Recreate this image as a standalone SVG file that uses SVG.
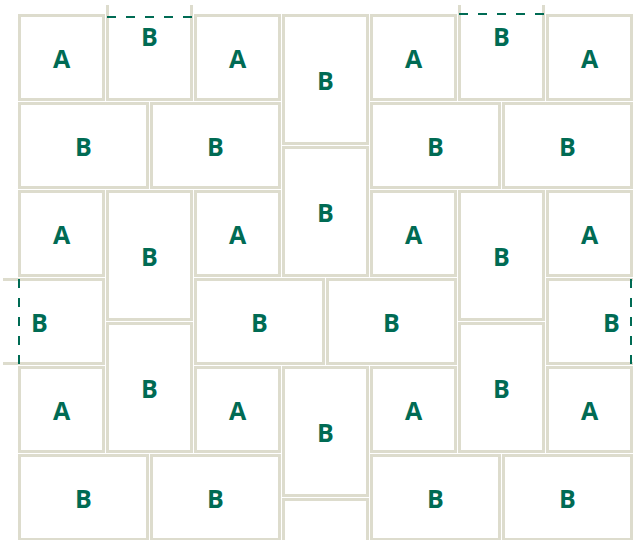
<svg xmlns="http://www.w3.org/2000/svg" width="633" height="540" viewBox="0 0 633 540">
<defs>
<clipPath id="clip"><rect x="3" y="5" width="630" height="535"/></clipPath>
<style>
.t{fill:#ffffff;stroke:#dddccd;stroke-width:3}
.l{font-family:"Open Sans","Noto Sans",sans-serif;font-weight:700;font-size:25px;fill:#006b54;text-anchor:middle}
.d{stroke:#006b54;stroke-width:2;stroke-dasharray:9 10;fill:none}
</style>
</defs>
<rect width="633" height="540" fill="#ffffff"/>
<g id="tiles" clip-path="url(#clip)">
<g id="a1"><rect class="t" x="19.5" y="15.5" width="84" height="84"/><text class="l" x="61.5" y="68">A</text></g>
<g id="b1"><rect class="t" x="107.5" y="-28.5" width="84" height="128"/><text class="l" x="149.5" y="46">B</text></g>
<g id="a2"><rect class="t" x="195.5" y="15.5" width="84" height="84"/><text class="l" x="237.5" y="68">A</text></g>
<g id="b2"><rect class="t" x="283.5" y="15.5" width="84" height="128"/><text class="l" x="325.5" y="90">B</text></g>
<g id="a3"><rect class="t" x="371.5" y="15.5" width="84" height="84"/><text class="l" x="413.5" y="68">A</text></g>
<g id="b3"><rect class="t" x="459.5" y="-28.5" width="84" height="128"/><text class="l" x="501.5" y="46">B</text></g>
<g id="a4"><rect class="t" x="547.5" y="15.5" width="84" height="84"/><text class="l" x="589.5" y="68">A</text></g>

<g id="b4"><rect class="t" x="19.5" y="103.5" width="128" height="84"/><text class="l" x="83.5" y="156">B</text></g>
<g id="b5"><rect class="t" x="151.5" y="103.5" width="128" height="84"/><text class="l" x="215.5" y="156">B</text></g>
<g id="b6"><rect class="t" x="283.5" y="147.5" width="84" height="128"/><text class="l" x="325.5" y="222">B</text></g>
<g id="b7"><rect class="t" x="371.5" y="103.5" width="128" height="84"/><text class="l" x="435.5" y="156">B</text></g>
<g id="b8"><rect class="t" x="503.5" y="103.5" width="128" height="84"/><text class="l" x="567.5" y="156">B</text></g>

<g id="a5"><rect class="t" x="19.5" y="191.5" width="84" height="84"/><text class="l" x="61.5" y="244">A</text></g>
<g id="b9"><rect class="t" x="107.5" y="191.5" width="84" height="128"/><text class="l" x="149.5" y="266">B</text></g>
<g id="a6"><rect class="t" x="195.5" y="191.5" width="84" height="84"/><text class="l" x="237.5" y="244">A</text></g>
<g id="a7"><rect class="t" x="371.5" y="191.5" width="84" height="84"/><text class="l" x="413.5" y="244">A</text></g>
<g id="b10"><rect class="t" x="459.5" y="191.5" width="84" height="128"/><text class="l" x="501.5" y="266">B</text></g>
<g id="a8"><rect class="t" x="547.5" y="191.5" width="84" height="84"/><text class="l" x="589.5" y="244">A</text></g>

<g id="b11"><rect class="t" x="-24.5" y="279.5" width="128" height="84"/><text class="l" x="39.5" y="332">B</text></g>
<g id="b12"><rect class="t" x="195.5" y="279.5" width="128" height="84"/><text class="l" x="259.5" y="332">B</text></g>
<g id="b13"><rect class="t" x="327.5" y="279.5" width="128" height="84"/><text class="l" x="391.5" y="332">B</text></g>
<g id="b14"><rect class="t" x="547.5" y="279.5" width="128" height="84"/><text class="l" x="611.5" y="332">B</text></g>

<g id="a9"><rect class="t" x="19.5" y="367.5" width="84" height="84"/><text class="l" x="61.5" y="420">A</text></g>
<g id="b15"><rect class="t" x="107.5" y="323.5" width="84" height="128"/><text class="l" x="149.5" y="398">B</text></g>
<g id="a10"><rect class="t" x="195.5" y="367.5" width="84" height="84"/><text class="l" x="237.5" y="420">A</text></g>
<g id="b16"><rect class="t" x="283.5" y="367.5" width="84" height="128"/><text class="l" x="325.5" y="442">B</text></g>
<g id="a11"><rect class="t" x="371.5" y="367.5" width="84" height="84"/><text class="l" x="413.5" y="420">A</text></g>
<g id="b17"><rect class="t" x="459.5" y="323.5" width="84" height="128"/><text class="l" x="501.5" y="398">B</text></g>
<g id="a12"><rect class="t" x="547.5" y="367.5" width="84" height="84"/><text class="l" x="589.5" y="420">A</text></g>

<g id="b18"><rect class="t" x="19.5" y="455.5" width="128" height="84"/><text class="l" x="83.5" y="508">B</text></g>
<g id="b19"><rect class="t" x="151.5" y="455.5" width="128" height="84"/><text class="l" x="215.5" y="508">B</text></g>
<g id="b20"><rect class="t" x="283.5" y="499.5" width="84" height="128"/></g>
<g id="b21"><rect class="t" x="371.5" y="455.5" width="128" height="84"/><text class="l" x="435.5" y="508">B</text></g>
<g id="b22"><rect class="t" x="503.5" y="455.5" width="128" height="84"/><text class="l" x="567.5" y="508">B</text></g>
</g>
<g id="connectors">
<line class="d" x1="107" y1="17" x2="193" y2="17"/>
<line class="d" x1="459" y1="14" x2="545" y2="14"/>
<line class="d" x1="19" y1="279" x2="19" y2="365"/>
<line class="d" x1="631" y1="279" x2="631" y2="365"/>
</g>
</svg>
